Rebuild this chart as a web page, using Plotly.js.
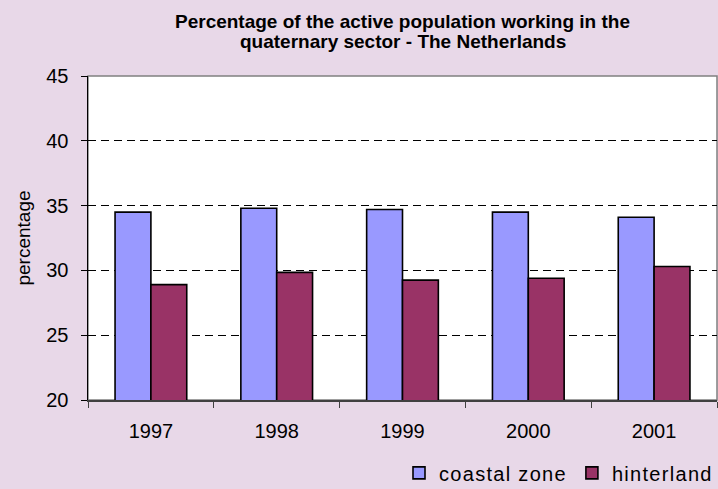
<!DOCTYPE html>
<html>
<head>
<meta charset="utf-8">
<script src="https://cdn.plot.ly/plotly-3.0.1.min.js"></script>
<style>
html,body{margin:0;padding:0;background:#E8D8E8;}
#chart{width:718px;height:489px;}
.legendtext{letter-spacing:1.3px;}
</style>
</head>
<body>
<div id="chart"></div>
<script>
const years = ["1997", "1998", "1999", "2000", "2001"];
const coastalZone = [34.5, 34.8, 34.7, 34.5, 34.1];
const hinterland = [28.9, 29.85, 29.25, 29.4, 30.3];
const yTicks = [20, 25, 30, 35, 40, 45];
const titleLines = ["Percentage of the active population working in the",
                    "quaternary sector - The Netherlands"];

const traces = [
  {type: "bar", name: "coastal zone", x: years, y: coastalZone,
   marker: {color: "#9999FF", line: {color: "#000000", width: 1.6}}},
  {type: "bar", name: "hinterland", x: years, y: hinterland,
   marker: {color: "#993366", line: {color: "#000000", width: 1.6}}}
];

const layout = {
  width: 718, height: 489,
  paper_bgcolor: "#E8D8E8", plot_bgcolor: "#FFFFFF",
  margin: {l: 88, r: 1, t: 76, b: 89},
  font: {family: "Liberation Sans, Arial, sans-serif", color: "#000000"},
  annotations: [
    {xref: "paper", yref: "paper", x: 0.5, y: 1.1667, xanchor: "center", yanchor: "middle",
     text: "<b>" + titleLines[0] + "</b>", showarrow: false, font: {size: 19}},
    {xref: "paper", yref: "paper", x: 0.5, y: 1.105, xanchor: "center", yanchor: "middle",
     text: "<b>" + titleLines[1] + "</b>", showarrow: false, font: {size: 19}}
  ],
  barmode: "group", bargap: 0.43, bargroupgap: 0,
  xaxis: {type: "category", tickson: "boundaries", ticks: "outside", ticklen: 6, tickcolor: "#404040",
          showline: true, linecolor: "#404040", linewidth: 1.5, showgrid: false,
          tickfont: {size: 20}, ticklabelstandoff: 12, fixedrange: true},
  yaxis: {range: [20, 45], tickvals: yTicks, ticks: "outside", ticklen: 6, tickcolor: "#000000",
          showline: true, linecolor: "#000000", linewidth: 1.5,
          showgrid: true, gridcolor: "#000000", gridwidth: 1, griddash: "8px,5px", zeroline: false,
          tickfont: {size: 20}, ticklabelstandoff: 8,
          title: {text: "percentage", font: {size: 19}, standoff: 10}},
  yaxis2: {overlaying: "y", matches: "y", range: [20, 45], tickvals: yTicks, ticks: "inside", ticklen: 6,
           tickcolor: "#000000", showticklabels: false, showgrid: false, zeroline: false, showline: false},
  shapes: [{type: "rect", xref: "paper", yref: "paper", x0: 0, x1: 1, y0: 0, y1: 1,
            line: {color: "#808080", width: 1.5}, layer: "below"}],
  legend: {orientation: "h", xref: "container", yref: "container", x: 1.0, xanchor: "right",
           y: 0.033, yanchor: "middle",
           font: {size: 20}, bgcolor: "rgba(0,0,0,0)", itemwidth: 30},
  showlegend: true
};

Plotly.newPlot("chart", traces, layout, {displayModeBar: false, staticPlot: true});
</script>
</body>
</html>
